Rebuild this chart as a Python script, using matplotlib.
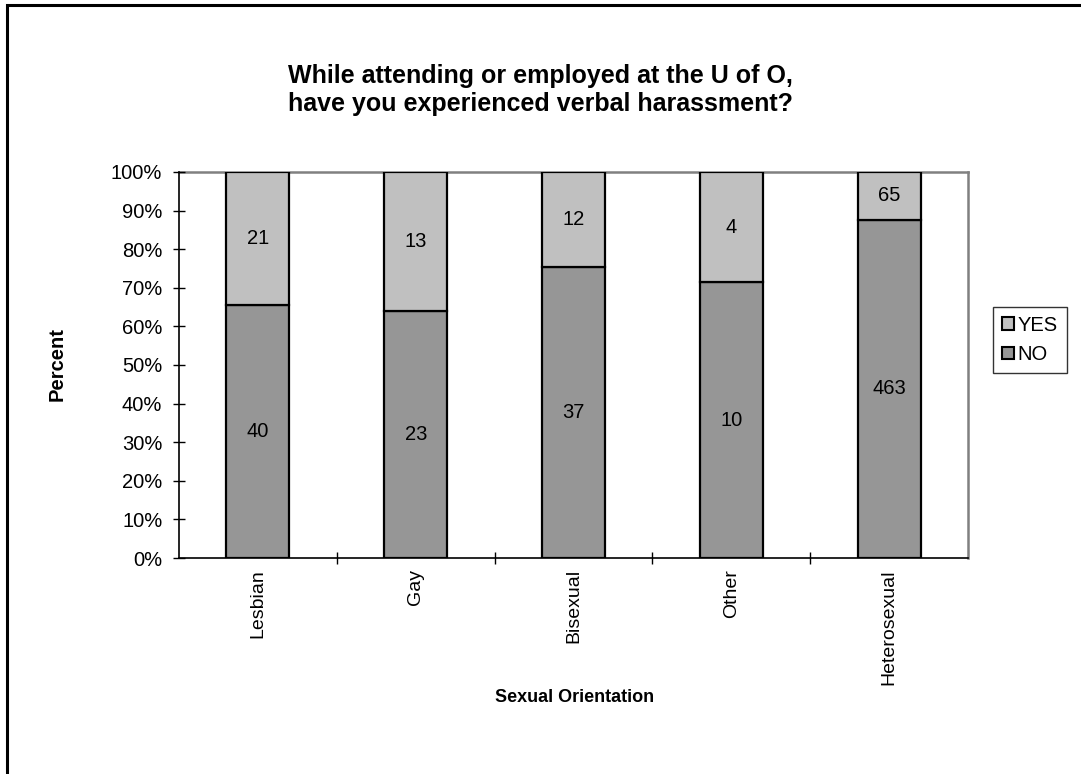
import matplotlib
matplotlib.use("Agg")
import matplotlib.pyplot as plt
from matplotlib.patches import Rectangle
from matplotlib.ticker import FixedLocator, PercentFormatter

plt.rcParams['font.family'] = ['Liberation Sans', 'DejaVu Sans']

categories = ["Lesbian", "Gay", "Bisexual", "Other", "Heterosexual"]
no_counts = [40, 23, 37, 10, 463]
yes_counts = [21, 13, 12, 4, 65]
y_ticks = [0, 10, 20, 30, 40, 50, 60, 70, 80, 90, 100]

BODY = 14.5

fig = plt.figure(figsize=(10.81, 7.74), dpi=100)
ax = fig.add_axes([179 / 1081, 1 - 558 / 774, (968 - 179) / 1081, (558 - 172) / 774])

# outer chart frame
fig.add_artist(Rectangle((7 / 1081, -0.05), 1.2, 1 - 5 / 774 + 0.05,
                         transform=fig.transFigure, fill=False,
                         edgecolor='black', linewidth=2.2, clip_on=False))

totals = [n + y for n, y in zip(no_counts, yes_counts)]
no_pct = [100 * n / t for n, t in zip(no_counts, totals)]
yes_pct = [100 * y / t for y, t in zip(yes_counts, totals)]
x = list(range(len(categories)))
width = 0.4

bars_no = ax.bar(x, no_pct, width, color='#969696', edgecolor='black',
                 linewidth=1.6, label='NO')
bars_yes = ax.bar(x, yes_pct, width, bottom=no_pct, color='#C0C0C0',
                  edgecolor='black', linewidth=1.6, label='YES')

for i in x:
    ax.text(i, no_pct[i] / 2, str(no_counts[i]), ha='center', va='center',
            fontsize=BODY)
    ax.text(i, no_pct[i] + yes_pct[i] / 2, str(yes_counts[i]), ha='center',
            va='center', fontsize=BODY)

ax.set_xlim(-0.5, len(categories) - 0.5)
ax.set_ylim(0, 100)

ax.set_yticks(y_ticks)
ax.yaxis.set_major_formatter(PercentFormatter(decimals=0))
ax.set_xticks(x)
ax.set_xticklabels(categories, rotation=90, fontsize=14)
ax.xaxis.set_minor_locator(FixedLocator([i + 0.5 for i in range(len(categories) - 1)]))
ax.tick_params(axis='x', which='major', length=0, pad=8)
ax.tick_params(axis='x', which='minor', direction='inout', length=9,
               width=1, color='black')
ax.tick_params(axis='y', which='major', direction='inout', length=8,
               width=1, color='black', labelsize=BODY, pad=8)

for side in ('left', 'bottom'):
    ax.spines[side].set_color('#000000')
    ax.spines[side].set_linewidth(1.2)
for side in ('top', 'right'):
    ax.spines[side].set_color('#808080')
    ax.spines[side].set_linewidth(1.8)
ax.spines['top'].set_zorder(0)

fig.text(0.5, 1 - 90 / 774, "While attending or employed at the U of O,\nhave you experienced verbal harassment?",
         ha='center', va='center', fontsize=18, fontweight='bold', linespacing=1.2)
fig.text(57 / 1081, 1 - 364 / 774, "Percent", rotation=90, ha='center',
         va='center', fontsize=BODY, fontweight='bold')
fig.text(575 / 1081, 1 - 698 / 774, "Sexual Orientation", ha='center',
         va='center', fontsize=13, fontweight='bold')

leg = fig.legend(handles=[bars_yes, bars_no], labels=['YES', 'NO'],
                 loc='center', bbox_to_anchor=(1030 / 1081, 1 - 340 / 774),
                 fontsize=BODY, frameon=True, fancybox=False, handlelength=0.6,
                 handleheight=0.6, handletextpad=0.15, borderpad=0.45,
                 labelspacing=0.5, borderaxespad=0)
leg.get_frame().set_edgecolor('black')
leg.get_frame().set_linewidth(1.0)
for h in leg.legend_handles:
    h.set_linewidth(1.5)

fig.savefig("out.png", dpi=100)
